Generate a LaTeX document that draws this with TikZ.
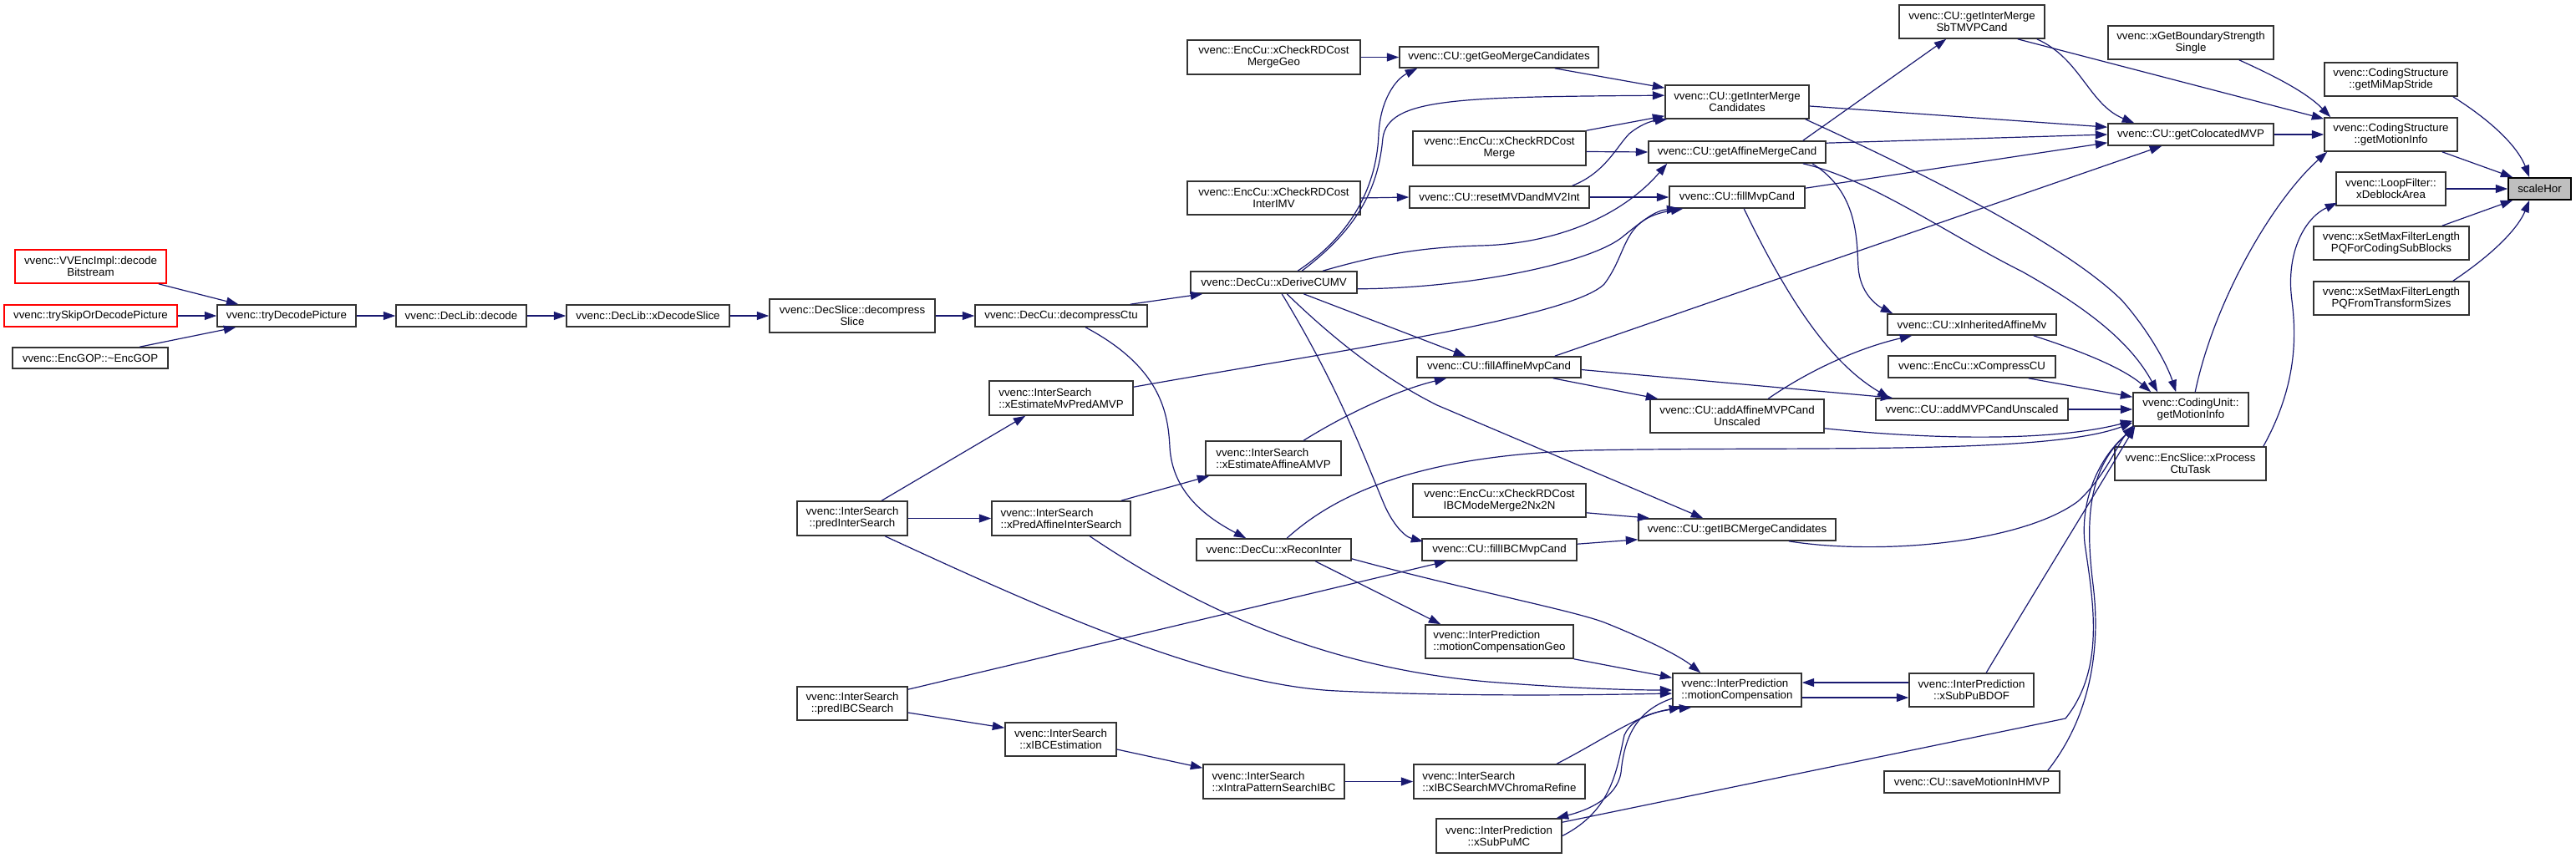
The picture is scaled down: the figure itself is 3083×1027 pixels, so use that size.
\documentclass[tikz,border=0pt]{standalone}
\usepackage{fontspec}
\setmainfont{Liberation Sans}
\usetikzlibrary{arrows.meta,calc}
\definecolor{eblue}{HTML}{191970}
\definecolor{sgray}{HTML}{BFBFBF}
\tikzset{
  nbox/.style={draw=black!80, line width=0.4mm, fill=white, inner sep=0pt, align=center, font=\fontsize{9.46}{9.9}\selectfont},
  redbox/.style={draw=red},
  graybox/.style={fill=sgray, draw=black},
  lal/.style={align=left},
  cx/.style={draw=eblue, line width=0.3mm, -{Triangle[length=3.6mm,width=2.5mm]}}
}
\newcommand\nd[7][]{%
  \node[nbox,#1,minimum width={(#4-#3)*0.25mm},minimum height={(#6-#5)*0.25mm}] (#2) at ({(#3+#4)/2},{(#5+#6)/2}) {#7};}
\begin{document}
\begin{tikzpicture}[x=0.25mm,y=-0.25mm]
\useasboundingbox (0,0) rectangle (3083,1027);
% nodes
\nd[redbox]{dbs}{18}{199}{299}{339}{vvenc::VVEncImpl::decode\\Bitstream}
\nd[redbox]{tsk}{5}{212}{365}{391}{vvenc::trySkipOrDecodePicture}
\nd{egop}{15}{201}{416}{441}{vvenc::EncGOP::\textasciitilde EncGOP}
\nd{tdp}{260}{426}{365}{391}{vvenc::tryDecodePicture}
\nd{dld}{474}{630}{365}{391}{vvenc::DecLib::decode}
\nd{xds}{678}{873}{365}{391}{vvenc::DecLib::xDecodeSlice}
\nd{dsl}{921}{1119}{358}{398}{vvenc::DecSlice::decompress\\Slice}
\nd{dctu}{1167}{1373}{365}{391}{vvenc::DecCu::decompressCtu}
\nd{pis}{954}{1086}{600}{641}{vvenc::InterSearch\\::predInterSearch}
\nd{pibc}{954}{1086}{822}{862}{vvenc::InterSearch\\::predIBCSearch}
\nd[lal]{emv}{1184}{1356}{456}{497}{vvenc::InterSearch\\::xEstimateMvPredAMVP}
\nd[lal]{pai}{1187}{1353}{600}{641}{vvenc::InterSearch\\::xPredAffineInterSearch}
\nd{ibce}{1203}{1336}{865}{905}{vvenc::InterSearch\\::xIBCEstimation}
\nd{mgeo}{1421}{1628}{48}{89}{vvenc::EncCu::xCheckRDCost\\MergeGeo}
\nd{imv}{1421}{1628}{217}{257}{vvenc::EncCu::xCheckRDCost\\InterIMV}
\nd{dcumv}{1425}{1624}{325}{351}{vvenc::DecCu::xDeriveCUMV}
\nd[lal]{eaa}{1443}{1605}{528}{569}{vvenc::InterSearch\\::xEstimateAffineAMVP}
\nd{rec}{1432}{1617}{645}{671}{vvenc::DecCu::xReconInter}
\nd[lal]{ipsi}{1440}{1609}{915}{956}{vvenc::InterSearch\\::xIntraPatternSearchIBC}
\nd{ggeo}{1675}{1913}{56}{81}{vvenc::CU::getGeoMergeCandidates}
\nd{rdm}{1691}{1898}{157}{198}{vvenc::EncCu::xCheckRDCost\\Merge}
\nd{rst}{1687}{1902}{223}{249}{vvenc::CU::resetMVDandMV2Int}
\nd{fam}{1696}{1892}{427}{452}{vvenc::CU::fillAffineMvpCand}
\nd{ibcm}{1691}{1898}{579}{619}{vvenc::EncCu::xCheckRDCost\\IBCModeMerge2Nx2N}
\nd{fibc}{1702}{1887}{645}{671}{vvenc::CU::fillIBCMvpCand}
\nd[lal]{mcg}{1706}{1883}{748}{788}{vvenc::InterPrediction\\::motionCompensationGeo}
\nd[lal]{chr}{1692}{1897}{915}{956}{vvenc::InterSearch\\::xIBCSearchMVChromaRefine}
\nd{spmc}{1719}{1869}{980}{1021}{vvenc::InterPrediction\\::xSubPuMC}
\nd{gimc}{1993}{2165}{102}{142}{vvenc::CU::getInterMerge\\Candidates}
\nd{gamc}{1973}{2185}{169}{195}{vvenc::CU::getAffineMergeCand}
\nd{fmvp}{1998}{2160}{223}{249}{vvenc::CU::fillMvpCand}
\nd{aamu}{1975}{2183}{478}{518}{vvenc::CU::addAffineMVPCand\\Unscaled}
\nd{gibc}{1961}{2197}{621}{647}{vvenc::CU::getIBCMergeCandidates}
\nd[lal]{mc}{2002}{2156}{806}{846}{vvenc::InterPrediction\\::motionCompensation}
\nd{sbt}{2273}{2447}{6}{46}{vvenc::CU::getInterMerge\\SbTMVPCand}
\nd{iam}{2259}{2461}{376}{401}{vvenc::CU::xInheritedAffineMv}
\nd{ccu}{2260}{2460}{426}{452}{vvenc::EncCu::xCompressCU}
\nd{amu}{2245}{2475}{477}{503}{vvenc::CU::addMVPCandUnscaled}
\nd{bdof}{2285}{2434}{806}{846}{vvenc::InterPrediction\\::xSubPuBDOF}
\nd{hmvp}{2255}{2465}{923}{949}{vvenc::CU::saveMotionInHMVP}
\nd{gbs}{2523}{2721}{31}{71}{vvenc::xGetBoundaryStrength\\Single}
\nd{col}{2523}{2721}{148}{174}{vvenc::CU::getColocatedMVP}
\nd{cumi}{2553}{2691}{470}{510}{vvenc::CodingUnit::\\getMotionInfo}
\nd{pct}{2531}{2712}{535}{575}{vvenc::EncSlice::xProcess\\CtuTask}
\nd{mms}{2782}{2941}{75}{115}{vvenc::CodingStructure\\::getMiMapStride}
\nd{csmi}{2782}{2941}{141}{181}{vvenc::CodingStructure\\::getMotionInfo}
\nd{dba}{2796}{2927}{206}{246}{vvenc::LoopFilter::\\xDeblockArea}
\nd{pqc}{2769}{2955}{271}{311}{vvenc::xSetMaxFilterLength\\PQForCodingSubBlocks}
\nd{pqt}{2769}{2955}{337}{377}{vvenc::xSetMaxFilterLength\\PQFromTransformSizes}
\nd[graybox]{sh}{3002}{3077}{213}{239}{scaleHor}
% edges: left chain
\draw[cx] ($(dbs.south east)+(-10,0)$) -- ($(tdp.north west)+(26,0)$);
\draw[cx] (tsk.east) -- (tdp.west);
\draw[cx] ($(egop.north west)+(153,0)$) -- ($(tdp.south west)+(23,0)$);
\draw[cx] (tdp.east) -- (dld.west);
\draw[cx] (dld.east) -- (xds.west);
\draw[cx] (xds.east) -- (dsl.west);
\draw[cx] (dsl.east) -- (dctu.west);
\draw[cx] ($(dctu.north east)+(-21,0)$) -- ($(dcumv.south west)+(15,0)$);
\draw[cx] ($(dctu.south west)+(133,0)$) .. controls (1390,440) and (1398,495) .. (1400,535) .. controls (1403,590) and (1445,620) .. ($(rec.north west)+(60,0)$);
% column 6 callers
\draw[cx] (mgeo.east) -- (ggeo.west);
\draw[cx] (imv.east) -- (rst.west);
\draw[cx] ($(dcumv.north west)+(129,0)$) .. controls (1620,280) and (1648,220) .. (1650,160) .. controls (1652,120) and (1670,95) .. ($(ggeo.south west)+(22,0)$);
\draw[cx] ($(dcumv.north west)+(134,0)$) .. controls (1630,270) and (1650,220) .. (1655,165) .. controls (1662,118) and (1740,116) .. ($(gimc.north west)+(0,13)$);
\draw[cx] ($(dcumv.north west)+(159,0)$) .. controls (1650,305) and (1700,296) .. (1772,294) .. controls (1860,292) and (1940,260) .. ($(gamc.south west)+(23,0)$);
\draw[cx] ($(dcumv.south east)+(0,-6)$) .. controls (1760,345) and (1900,315) .. (1940,285) .. controls (1965,265) and (1980,252) .. ($(fmvp.south west)+(12,0)$);
\draw[cx] ($(dcumv.south west)+(136,0)$) -- ($(fam.north west)+(59,0)$);
\draw[cx] ($(dcumv.south west)+(116,0)$) .. controls (1590,400) and (1650,450) .. (1720,485) -- ($(gibc.north west)+(78,0)$);
\draw[cx] ($(dcumv.south west)+(110,0)$) .. controls (1600,460) and (1630,540) .. (1655,600) .. controls (1665,625) and (1680,642) .. ($(fibc.north west)+(2,4)$);
% column 5
\draw[cx] ($(ggeo.south east)+(-53,0)$) -- ($(gimc.north west)+(0,4)$);
\draw[cx] (rdm.north east) -- ($(gimc.south west)+(0,-4)$);
\draw[cx] ($(rdm.east)+(0,4)$) -- (gamc.west);
\draw[cx] ($(rst.north east)+(-21,0)$) .. controls (1921,207) and (1935,175) .. (1950,160) .. controls (1962,150) and (1975,145) .. ($(gimc.south west)+(3,0)$);
\draw[cx] (rst.east) -- (fmvp.west);
\draw[cx] ($(emv.north east)+(0,8)$) .. controls (1600,420) and (1880,380) .. (1920,340) .. controls (1950,300) and (1940,262) .. ($(fmvp.south west)+(17,0)$);
\draw[cx] ($(eaa.north west)+(118,0)$) .. controls (1620,490) and (1680,465) .. ($(fam.south west)+(36,0)$);
% inter search
\draw[cx] ($(pis.north west)+(102,0)$) -- ($(emv.south west)+(44,0)$);
\draw[cx] (pis.east) -- (pai.west);
\draw[cx] ($(pai.north east)+(-12,0)$) -- ($(eaa.south west)+(5,0)$);
\draw[cx] ($(pibc.east)+(0,11)$) -- ($(ibce.north west)+(0,7)$);
\draw[cx] ($(ibce.east)+(0,12)$) -- ($(ipsi.north west)+(0,5)$);
\draw[cx] (ipsi.east) -- (chr.west);
\draw[cx] ($(pibc.north east)+(0,4)$) -- ($(fibc.south west)+(30,0)$);
% recon inter
\draw[cx] ($(rec.north west)+(109,0)$) .. controls (1600,590) and (1700,545) .. (1900,539) .. controls (2150,534) and (2450,545) .. ($(cumi.south west)+(0,-5)$);
\draw[cx] ($(rec.south west)+(143,0)$) -- ($(mcg.north west)+(19,0)$);
\draw[cx] ($(rec.south east)+(0,-3)$) .. controls (1750,705) and (1880,730) .. (1920,745) .. controls (1970,765) and (2010,785) .. ($(mc.north west)+(34,0)$);
\draw[cx] ($(pis.south west)+(106,0)$) .. controls (1250,730) and (1450,820) .. (1600,827) .. controls (1750,834) and (1900,832) .. ($(mc.west)+(0,4)$);
\draw[cx] ($(pai.south west)+(118,0)$) .. controls (1450,740) and (1600,800) .. (1780,816) .. controls (1880,824) and (1950,826) .. (mc.west);
\draw[cx] (mcg.south east) -- ($(mc.north west)+(0,6)$);
\draw[cx] ($(chr.north west)+(172,0)$) .. controls (1920,885) and (1960,855) .. ($(mc.south west)+(11,0)$);
\draw[cx] (spmc.east) .. controls (1930,970) and (1935,920) .. (1944,880) .. controls (1955,855) and (1990,850) .. ($(mc.south west)+(23,0)$);
\draw[cx] ($(mc.west)+(0,10)$) .. controls (1960,850) and (1944,880) .. (1940,925) .. controls (1935,955) and (1900,970) .. ($(spmc.north east)+(-7,0)$);
\draw[cx] ($(bdof.west)+(0,-9)$) -- ($(mc.east)+(0,-9)$);
\draw[cx] ($(mc.east)+(0,9)$) -- ($(bdof.west)+(0,9)$);
% IBC merge
\draw[cx] ($(ibcm.south east)+(0,-6)$) -- ($(gibc.north west)+(14,0)$);
\draw[cx] ($(fibc.north east)+(0,7)$) -- ($(gibc.south west)+(0,-2)$);
% affine mvp
\draw[cx] ($(fam.south east)+(-34,0)$) -- ($(aamu.north west)+(10,0)$);
\draw[cx] ($(fam.east)+(0,3)$) -- ($(amu.north west)+(21,0)$);
\draw[cx] ($(fam.north east)+(-32,0)$) -- ($(col.south west)+(65,0)$);
\draw[cx] ($(fmvp.south west)+(90,0)$) .. controls (2150,380) and (2200,440) .. ($(amu.north west)+(17,0)$);
% to colocated
\draw[cx] ($(fmvp.north east)+(0,3)$) -- ($(col.south west)+(0,-4)$);
\draw[cx] ($(gamc.north east)+(0,3)$) -- (col.west);
\draw[cx] ($(gimc.east)+(0,5)$) -- ($(col.north west)+(0,5)$);
\draw[cx] ($(gamc.north east)+(-28,0)$) -- ($(sbt.south west)+(57,0)$);
\draw[cx] ($(gamc.south east)+(-17,0)$) .. controls (2225,230) and (2222,290) .. (2224,320) .. controls (2226,350) and (2245,365) .. ($(iam.north west)+(7,0)$);
\draw[cx] ($(gamc.south east)+(-28,0)$) .. controls (2240,215) and (2330,280) .. (2420,325) .. controls (2500,370) and (2550,410) .. ($(cumi.north west)+(30,0)$);
\draw[cx] ($(gimc.south east)+(-5,0)$) .. controls (2330,220) and (2480,300) .. (2540,360) .. controls (2575,400) and (2595,440) .. ($(cumi.north west)+(52,0)$);
\draw[cx] ($(iam.south east)+(-28,0)$) .. controls (2490,420) and (2540,440) .. ($(cumi.north west)+(22,0)$);
\draw[cx] ($(sbt.south east)+(-10,0)$) .. controls (2490,70) and (2500,125) .. ($(col.north west)+(32,0)$);
\draw[cx] ($(sbt.south east)+(-33,0)$) -- ($(csmi.north west)+(0,2)$);
\draw[cx] ($(gbs.south east)+(-42,0)$) .. controls (2720,90) and (2760,110) .. ($(csmi.north west)+(8,0)$);
\draw[cx] (col.east) -- (csmi.west);
\draw[cx] ($(cumi.north west)+(75,0)$) .. controls (2650,360) and (2720,240) .. ($(csmi.south west)+(4,0)$);
% to scaleHor
\draw[cx] ($(csmi.south east)+(-19,0)$) -- ($(sh.north west)+(6,0)$);
\draw[cx] ($(mms.south east)+(-6,0)$) .. controls (2990,150) and (3015,180) .. ($(sh.north west)+(26,0)$);
\draw[cx] (dba.east) -- (sh.west);
\draw[cx] ($(pqc.north east)+(-33,0)$) -- ($(sh.south west)+(6,0)$);
\draw[cx] ($(pqt.north east)+(-20,0)$) .. controls (2990,300) and (3015,270) .. ($(sh.south west)+(26,0)$);
\draw[cx] ($(pct.north east)+(-4,0)$) .. controls (2750,460) and (2748,400) .. (2743,360) .. controls (2735,300) and (2760,260) .. ($(dba.south west)+(2,-4)$);
% to CodingUnit::getMotionInfo
\draw[cx] ($(ccu.south east)+(-33,0)$) -- ($(cumi.north west)+(0,6)$);
\draw[cx] (amu.east) -- (cumi.west);
\draw[cx] ($(aamu.south east)+(0,-6)$) .. controls (2300,525) and (2450,530) .. ($(cumi.south west)+(0,-7)$);
\draw[cx] ($(gibc.south east)+(-57,0)$) .. controls (2250,665) and (2420,650) .. (2487,600) .. controls (2520,570) and (2535,530) .. ($(cumi.south west)+(2,-2)$);
\draw[cx] ($(bdof.north west)+(93,0)$) .. controls (2440,700) and (2490,620) .. ($(cumi.south west)+(3,0)$);
\draw[cx] ($(hmvp.north east)+(-15,0)$) .. controls (2500,860) and (2515,780) .. (2505,700) .. controls (2495,620) and (2500,560) .. ($(cumi.south west)+(3,0)$);
\draw[cx] ($(spmc.north east)+(0,5)$) -- (2472,860) .. controls (2520,800) and (2505,720) .. (2495,650) .. controls (2490,600) and (2510,550) .. ($(cumi.south west)+(3,0)$);
\draw[cx] ($(aamu.north west)+(142,0)$) .. controls (2170,440) and (2230,415) .. ($(iam.south west)+(30,0)$);
\end{tikzpicture}
\end{document}
